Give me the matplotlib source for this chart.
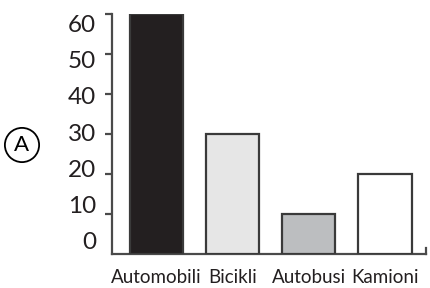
import matplotlib.pyplot as plt

# data
categories = ["Automobili", "Bicikli", "Autobusi", "Kamioni"]
values = [60, 30, 10, 20]
colors = ["#231f20", "#e6e6e6", "#bcbec0", "#ffffff"]
y_ticks = [0, 10, 20, 30, 40, 50, 60]

plt.rcParams['font.family'] = ['Lato', 'DejaVu Sans']

fig = plt.figure(figsize=(4.31, 2.88), dpi=100)
ax = fig.add_axes([112 / 431, 34 / 288, 314 / 431, 240 / 288])

x = list(range(len(categories)))
ax.bar(x, values, width=0.7, color=colors, edgecolor="#3a3a3a", linewidth=1.6, zorder=3)

ax.set_xlim(-0.58, 3.54)
ax.set_ylim(0, 60)

# axes look
ax.spines['top'].set_visible(False)
ax.spines['right'].set_bounds(0, 1.5)
for s in ['left', 'bottom', 'right']:
    ax.spines[s].set_color("#4a4a4a")
    ax.spines[s].set_linewidth(1.6)

ax.set_xticks(x)
ax.set_xticklabels(categories, fontsize=13.5, color="#231f20")
ax.tick_params(axis='x', length=0, pad=11)
# first label sits a bit left of its bar in the reference
ax.get_xticklabels()[0].set_x(-0.22)

# tick marks on the main axis, no labels
ax.set_yticks(y_ticks[1:])
ax.set_yticklabels([])
ax.tick_params(axis='y', length=5, width=1.6, color="#4a4a4a")

# labels on a second axis, spaced a little tighter like the reference
ax2 = ax.twinx()
ax2.set_ylim(-3.58, 62.48)
ax2.yaxis.set_ticks_position('left')
ax2.set_yticks(y_ticks)
ax2.set_yticklabels([str(v) for v in y_ticks], fontsize=17.5, color="#231f20")
ax2.tick_params(axis='y', length=0, pad=11.5)
for s in ax2.spines.values():
    s.set_visible(False)

# circled A
fig.text(22 / 431, 1 - 145 / 288, "A", fontsize=16, ha='center', va='center',
         bbox=dict(boxstyle='circle,pad=0.32', fc='none', ec='black', lw=1.3))

plt.savefig("out.png", dpi=100)
